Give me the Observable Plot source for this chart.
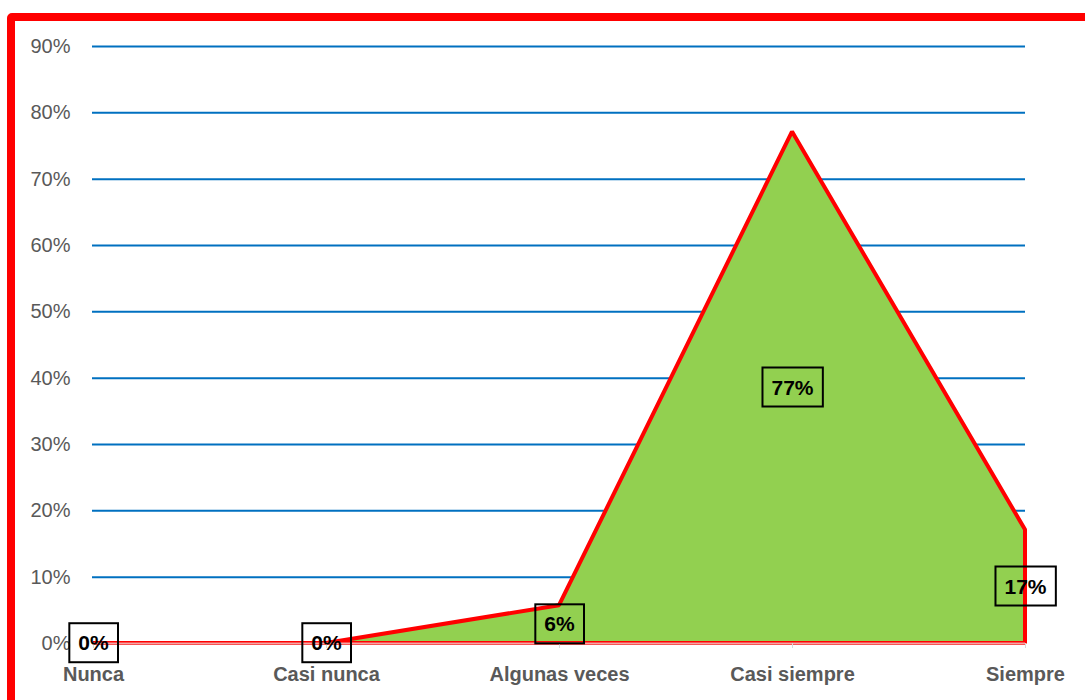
<!DOCTYPE html>
<html>
<head>
<meta charset="utf-8">
<script src="https://cdn.jsdelivr.net/npm/d3@7"></script>
<script src="https://cdn.jsdelivr.net/npm/@observablehq/plot@0.6"></script>
<style>
  html, body { margin: 0; padding: 0; background: #fff; overflow: hidden; width: 1085px; height: 700px; }
  #wrap { position: relative; width: 1085px; height: 700px; }
  #frame { position: absolute; left: 7px; top: 13px; width: 1200px; height: 800px; border: 8px solid #ff0000; border-radius: 5px; box-sizing: border-box; pointer-events: none; z-index: 2; }
  #chart { position: absolute; left: 0; top: 0; }
</style>
</head>
<body>
<div id="wrap"><div id="chart"></div><div id="frame"></div></div>
<script>
const categories = ["Nunca", "Casi nunca", "Algunas veces", "Casi siempre", "Siempre"];
const values = [0, 0, 0.057, 0.771, 0.171];
const yTicks = [0, 0.1, 0.2, 0.3, 0.4, 0.5, 0.6, 0.7, 0.8, 0.9];

const data = categories.map((c, i) => ({cat: c, value: values[i]}));
const font = "'Liberation Sans', Arial, sans-serif";

const plot = Plot.plot({
  width: 1085,
  height: 700,
  marginLeft: 92,
  marginRight: 60,
  marginTop: 46,
  marginBottom: 57,
  style: {fontFamily: font, background: "transparent"},
  x: {type: "point", domain: categories, padding: 0, label: null},
  y: {domain: [0, 0.9], ticks: yTicks, label: null},
  marks: [
    Plot.ruleY(yTicks.filter(d => d > 0), {stroke: "#0070C0", strokeWidth: 2}),
    Plot.areaY(data, {x: "cat", y: "value", fill: "#92D050", stroke: "#ff0000", strokeWidth: 4, strokeLinejoin: "miter"}),
    Plot.ruleY([0], {stroke: "#f4a6a6", strokeWidth: 2}),
    Plot.axisY({ticks: yTicks, tickSize: 0, tickPadding: 22, tickFormat: d => Math.round(d * 100) + "%", fontSize: 20, fill: "#595959"}),
    Plot.axisX({tickSize: 5, tickPadding: 18, stroke: "#d9d9d9", fontSize: 20, fontWeight: "bold", fill: "#595959"}),
    Plot.text(data, {x: "cat", y: d => d.value / 2, text: d => Math.round(d.value * 100) + "%", fontSize: 21, fontWeight: "bold", fill: "#000", className: "dlabel"})
  ]
});
document.getElementById("chart").appendChild(plot);

// draw a box around each data label, sized from the rendered text
const svg = d3.select(plot);
svg.selectAll("g.dlabel text").each(function() {
  const b = this.getBBox();
  const padX = 9, padY = 8;
  const r = d3.select(this.parentNode).insert("rect", () => this)
    .attr("x", b.x - padX)
    .attr("y", b.y - padY)
    .attr("width", b.width + 2 * padX)
    .attr("height", b.height + 2 * padY)
    .attr("fill", "none")
    .attr("stroke", "#000")
    .attr("stroke-width", 2);
  const t = this.getAttribute("transform");
  if (t) r.attr("transform", t);
});
</script>
</body>
</html>
